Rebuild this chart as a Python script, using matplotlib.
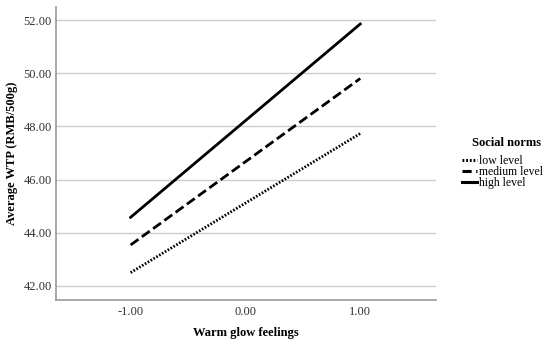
import numpy as np
import matplotlib
matplotlib.use("Agg")
import matplotlib.pyplot as plt

plt.rcParams['font.family'] = ['Liberation Serif', 'DejaVu Serif']

# data
warm_glow = [-1.0, 1.0]
low_level = [42.50, 47.73]
medium_level = [43.54, 49.80]
high_level = [44.58, 51.85]

y_ticks = [42, 44, 46, 48, 50, 52]
x_ticks = [-1, 0, 1]

fig = plt.figure(figsize=(5.5, 3.44), dpi=100)
ax = fig.add_axes([56/550, 44/344, 380/550, 293/344])

ax.plot(warm_glow, low_level, color='black', lw=2.0, linestyle=(0, (0.6, 0.6)), label='low level')
ax.plot(warm_glow, medium_level, color='black', lw=2.0, linestyle=(0, (3.5, 1.5)), label='medium level')
ax.plot(warm_glow, high_level, color='black', lw=2.0, label='high level')

ax.set_xlim(-1.65, 1.66)
ax.set_ylim(41.47, 52.49)
ax.set_yticks(y_ticks)
ax.set_yticklabels([f'{v:.2f}' for v in y_ticks])
ax.set_xticks(x_ticks)
ax.set_xticklabels([f'{v:.2f}' for v in x_ticks])
ax.tick_params(length=0, labelsize=9, colors='#333333', pad=3)
ax.tick_params(axis='x', pad=4)
ax.grid(axis='y', color='#cccccc', lw=1)
ax.set_axisbelow(True)
for s in ['top', 'right']:
    ax.spines[s].set_visible(False)
for s in ['left', 'bottom']:
    ax.spines[s].set_color('#999999')
    ax.spines[s].set_linewidth(1.2)

ax.set_xlabel('Warm glow feelings', fontsize=9, fontweight='bold')
ax.set_ylabel('Average WTP (RMB/500g)', fontsize=9, fontweight='bold')
ax.xaxis.set_label_coords(0.5, -0.113)
ax.yaxis.set_label_coords(-0.116, 0.5)
ax.xaxis.label.set_va('center')
ax.yaxis.label.set_va('center')

# legend title drawn separately so the gap matches the reference
fig.text(507/550, 1 - 143/344, 'Social norms', fontsize=9, fontweight='bold',
         ha='center', va='center')
leg = ax.legend(loc='center left', bbox_to_anchor=(462/550, 1 - 172/344), bbox_transform=fig.transFigure,
                frameon=False, fontsize=8.5, handlelength=1.3,
                handletextpad=0.15, labelspacing=-0.1, borderaxespad=0, borderpad=0)
for h in leg.legend_handles:
    h.set_linewidth(2.2)
leg.legend_handles[1].set_linestyle((0, (3.0, 1.5)))

fig.savefig('out.png', dpi=100)
